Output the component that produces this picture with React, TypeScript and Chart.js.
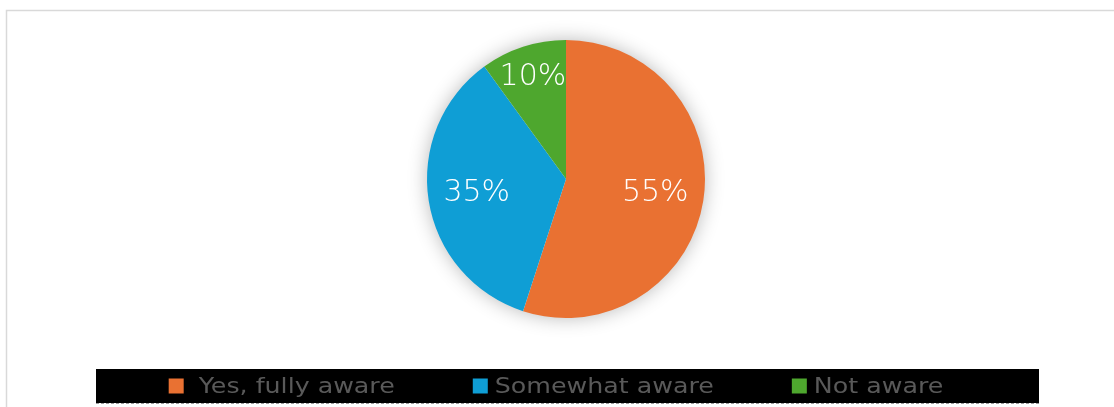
import React, { useEffect, useRef } from "react";
import { Chart, registerables } from "chart.js";

Chart.register(...registerables);

const categories = [" Yes, fully aware", "Somewhat aware", "Not aware"];
const values = [55, 35, 10];
const valueLabels = ["55%", "35%", "10%"];
const colors = ["#E97132", "#0F9ED5", "#4EA72E"];
const labelRadiusFactors = [0.65, 0.65, 0.77];

const FONT = "'DejaVu Sans', 'Liberation Sans', sans-serif";

const framePlugin = {
  id: "frame",
  beforeDraw(chart: any) {
    const ctx = chart.ctx;
    ctx.save();
    ctx.fillStyle = "#ffffff";
    ctx.fillRect(0, 0, chart.width, chart.height);
    ctx.strokeStyle = "#d9d9d9";
    ctx.lineWidth = 1.5;
    ctx.beginPath();
    ctx.moveTo(6.5, chart.height + 5);
    ctx.lineTo(6.5, 10.5);
    ctx.lineTo(chart.width + 5, 10.5);
    ctx.stroke();
    ctx.restore();
  },
};

const shadowPlugin = {
  id: "pieShadow",
  beforeDatasetsDraw(chart: any) {
    const arc = chart.getDatasetMeta(0).data[0];
    if (!arc) return;
    const ctx = chart.ctx;
    ctx.save();
    ctx.shadowColor = "rgba(0,0,0,0.3)";
    ctx.shadowBlur = 20;
    ctx.shadowOffsetX = 0;
    ctx.shadowOffsetY = 0;
    ctx.fillStyle = "#ffffff";
    ctx.beginPath();
    ctx.arc(arc.x, arc.y, arc.outerRadius - 1, 0, Math.PI * 2);
    ctx.fill();
    ctx.restore();
  },
};

const labelPlugin = {
  id: "sliceLabels",
  afterDatasetsDraw(chart: any) {
    const meta = chart.getDatasetMeta(0);
    const ctx = chart.ctx;
    ctx.save();
    ctx.fillStyle = "#ffffff";
    ctx.font = `200 30px ${FONT}`;
    ctx.textAlign = "center";
    ctx.textBaseline = "middle";
    meta.data.forEach((arc: any, i: number) => {
      const mid = (arc.startAngle + arc.endAngle) / 2;
      const r = arc.outerRadius * labelRadiusFactors[i];
      ctx.fillText(valueLabels[i], arc.x + Math.cos(mid) * r, arc.y + Math.sin(mid) * r);
    });
    ctx.restore();
  },
};

const legendPlugin = {
  id: "bandLegend",
  afterDraw(chart: any) {
    const ctx = chart.ctx;
    const bandLeft = 96;
    const bandRight = 1039;
    const bandTop = 369;
    const bandBottom = 403;
    ctx.save();
    ctx.fillStyle = "#000000";
    ctx.fillRect(bandLeft, bandTop, bandRight - bandLeft, bandBottom - bandTop);
    ctx.strokeStyle = "#9a9a9a";
    ctx.lineWidth = 1;
    ctx.setLineDash([3, 2]);
    ctx.beginPath();
    ctx.moveTo(bandLeft, bandBottom + 0.5);
    ctx.lineTo(bandRight, bandBottom + 0.5);
    ctx.stroke();
    ctx.setLineDash([]);

    ctx.font = `22px ${FONT}`;
    ctx.textBaseline = "middle";
    ctx.textAlign = "left";
    const sx = 1.15;
    const box = 15;
    const gap = 7;
    const itemGap = 78;
    const widths = categories.map((c) => box + gap + ctx.measureText(c).width * sx);
    const total = widths.reduce((a, b) => a + b, 0) + itemGap * (categories.length - 1);
    let x = 556 - total / 2;
    const cy = 386;
    categories.forEach((c, i) => {
      ctx.fillStyle = colors[i];
      ctx.fillRect(x, cy - box / 2, box, box);
      ctx.fillStyle = "#595959";
      ctx.save();
      ctx.translate(x + box + gap, cy + 1);
      ctx.scale(sx, 1);
      ctx.fillText(c, 0, 0);
      ctx.restore();
      x += widths[i] + itemGap;
    });
    ctx.restore();
  },
};

export default function App() {
  const ref = useRef<HTMLCanvasElement>(null);
  useEffect(() => {
    if (!ref.current) return;
    const chart = new Chart(ref.current, {
      type: "pie",
      data: {
        labels: categories,
        datasets: [
          {
            data: values,
            backgroundColor: colors,
            borderWidth: 0,
          },
        ],
      },
      options: {
        responsive: false,
        animation: false,
        layout: { padding: { top: 40, bottom: 89, left: 18, right: 0 } },
        plugins: {
          legend: { display: false },
          tooltip: { enabled: false },
        },
      },
      plugins: [framePlugin, shadowPlugin, labelPlugin, legendPlugin],
    });
    return () => chart.destroy();
  }, []);
  return (
    <div style={{ position: "fixed", left: 0, top: 0, width: 1114, height: 407 }}>
      <canvas ref={ref} width={1114} height={407} style={{ width: 1114, height: 407, display: "block" }} />
    </div>
  );
}
